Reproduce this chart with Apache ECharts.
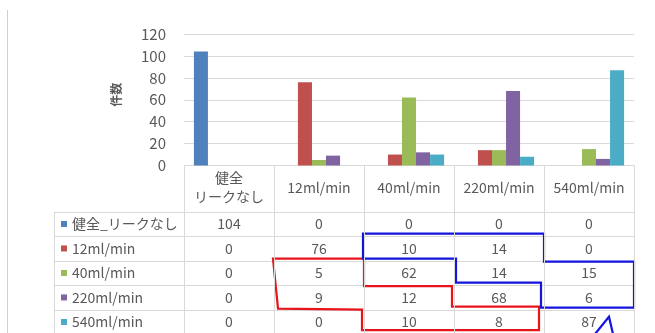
<!DOCTYPE html>
<html>
<head>
<meta charset="utf-8">
<script src="https://cdn.jsdelivr.net/npm/echarts@6/dist/echarts.min.js"></script>
<style>
  html, body { margin: 0; padding: 0; background: #fff; }
  #chart { width: 655px; height: 333px; }
</style>
</head>
<body>
<div id="chart"></div>
<script>
// Leak-rate classes (columns) and the detected class counts per true class (series)
const categories = ['健全\nリークなし', '12ml/min', '40ml/min', '220ml/min', '540ml/min'];
const seriesNames = ['健全_リークなし', '12ml/min', '40ml/min', '220ml/min', '540ml/min'];
const healthy = [104, 0, 0, 0, 0];
const leak12 = [0, 76, 10, 14, 0];
const leak40 = [0, 5, 62, 14, 15];
const leak220 = [0, 9, 12, 68, 6];
const leak540 = [0, 0, 10, 8, 87];
const seriesValues = [healthy, leak12, leak40, leak220, leak540];
const yMin = 0, yMax = 120, yStep = 20;

const colors = ['#4F81BD', '#C0504D', '#9BBB59', '#8064A2', '#4BACC6'];
const FONT = "'Noto Sans CJK JP', 'Noto Sans', sans-serif";
const TEXT = '#595959';
const LINE = '#d9d9d9';

const chart = echarts.init(document.getElementById('chart'), null, { renderer: 'canvas' });

chart.setOption({
  animation: false,
  color: colors,
  textStyle: { fontFamily: FONT },
  grid: { left: 184, right: 21, top: 34, bottom: 167.5, containLabel: false },
  xAxis: {
    type: 'category',
    data: categories,
    boundaryGap: true,
    axisLine: { show: true, lineStyle: { color: LINE, width: 1 } },
    axisTick: { show: true, alignWithLabel: false, length: 170, lineStyle: { color: LINE } },
    axisLabel: {
      color: TEXT, fontSize: 14, lineHeight: 19, margin: 22,
      verticalAlign: 'middle', fontFamily: FONT, interval: 0
    }
  },
  yAxis: {
    type: 'value',
    min: yMin, max: yMax, interval: yStep,
    name: '件数',
    nameLocation: 'middle',
    nameRotate: 90,
    nameGap: 62,
    nameTextStyle: { color: TEXT, fontSize: 12, fontWeight: 'bold', fontFamily: FONT, padding: [0, 0, 0, 10] },
    axisLine: { show: false },
    axisTick: { show: false },
    axisLabel: { color: TEXT, fontSize: 15, margin: 18, fontFamily: FONT },
    splitLine: { lineStyle: { color: LINE, width: 1 } }
  },
  series: seriesNames.map((name, i) => ({
    name: name,
    type: 'bar',
    data: seriesValues[i],
    barGap: 0,
    barCategoryGap: '22%',
    itemStyle: { color: colors[i] }
  }))
});

// Data table under the plot, aligned with the category axis
function buildTable() {
  const centers = categories.map((_, i) => chart.convertToPixel({ xAxisIndex: 0 }, i));
  const step = centers[1] - centers[0];
  const bounds = [centers[0] - step / 2].concat(centers.map(c => c + step / 2));
  const axisY = chart.convertToPixel({ yAxisIndex: 0 }, yMin);
  const tableTop = axisY + 46.2;
  const rowH = 24.5;
  const legendLeft = 54;
  const rowTop = r => tableTop + r * rowH;
  const els = [];

  // outer frame of the chart area
  els.push({ type: 'line', shape: { x1: 7.5, y1: 10, x2: 7.5, y2: 333 }, style: { stroke: '#cfcfcf', lineWidth: 1 }, silent: true });

  // horizontal rules of the table
  for (let r = 0; r < seriesNames.length + 1; r++) {
    const y = Math.round(rowTop(r)) + 0.5;
    els.push({ type: 'line', shape: { x1: legendLeft, y1: y, x2: bounds[bounds.length - 1], y2: y }, style: { stroke: LINE, lineWidth: 1 }, silent: true });
  }
  // left edge of the legend column
  els.push({ type: 'line', shape: { x1: legendLeft + 0.5, y1: rowTop(0), x2: legendLeft + 0.5, y2: 333 }, style: { stroke: LINE, lineWidth: 1 }, silent: true });

  // legend keys and series names
  seriesNames.forEach((name, r) => {
    const cy = rowTop(r) + rowH / 2;
    els.push({ type: 'rect', shape: { x: 61, y: cy - 3, width: 6, height: 6 }, style: { fill: colors[r] }, silent: true });
    els.push({ type: 'text', x: 72, y: cy, style: { text: name, fill: TEXT, font: '14px ' + FONT, textAlign: 'left', textVerticalAlign: 'middle' }, silent: true });
    seriesValues[r].forEach((v, c) => {
      els.push({ type: 'text', x: centers[c], y: cy, style: { text: String(v), fill: TEXT, font: '14px ' + FONT, textAlign: 'center', textVerticalAlign: 'middle' }, silent: true });
    });
  });

  // highlighted cell groups
  const bx = bounds, ry = rowTop;
  const red = [
    [bx[1] - 1, ry(2) - 2], [bx[2], ry(2) - 2], [bx[2], ry(3) + 1], [bx[3] - 2, ry(3) + 1],
    [bx[3] - 2, ry(4) - 3], [bx[4] - 5, ry(4) - 3], [bx[4] - 5, ry(5) - 4], [bx[2] - 2, ry(5) - 4],
    [bx[2] - 2, ry(4)], [bx[1] + 4, ry(4) - 1]
  ];
  const blue = [
    [bx[2] - 1, ry(1) - 2.5], [bx[4], ry(1) - 2.5], [bx[4], ry(2) + 1], [bx[5], ry(2) + 1],
    [bx[5], ry(4) - 2], [bx[4] - 3, ry(4) - 2], [bx[4] - 3, ry(3) - 2.5], [bx[3] + 2, ry(3) - 2.5],
    [bx[3] + 2, ry(2) - 2], [bx[2] - 1, ry(2) - 2]
  ];
  els.push({ type: 'polygon', shape: { points: red }, style: { fill: 'none', stroke: '#e8141b', lineWidth: 2.2 }, silent: true });
  els.push({ type: 'polygon', shape: { points: blue }, style: { fill: 'none', stroke: '#1414e0', lineWidth: 2.2 }, silent: true });

  // arrow pointing at the 540ml/min cell
  const tipX = centers[4] + 20, tipY = ry(4) + 7;
  els.push({ type: 'polyline', shape: { points: [[tipX - 14, 334], [tipX, tipY], [tipX + 4, 334]] }, style: { fill: 'none', stroke: '#1414e0', lineWidth: 2.2 }, silent: true });

  chart.setOption({ graphic: els });
}
buildTable();
</script>
</body>
</html>
